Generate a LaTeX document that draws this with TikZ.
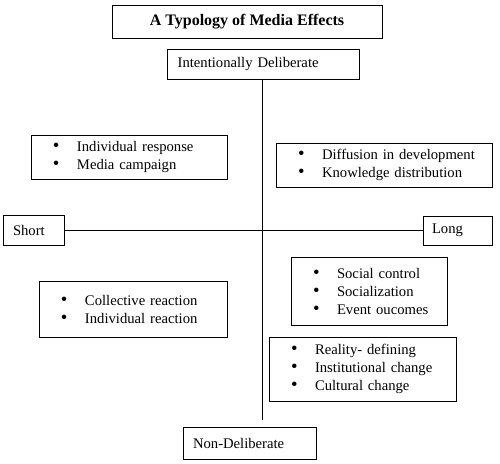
\documentclass[tikz,border=0pt]{standalone}
\usepackage{fontspec}
\setmainfont{Liberation Serif}
\newcommand{\itm}[1]{\hspace*{16.5pt}\makebox[18pt][l]{\fontsize{14}{13.5}\selectfont\textbullet}#1}
\begin{document}
\begin{tikzpicture}[x=0.75pt,y=-0.75pt,line width=0.6pt,
    font=\fontsize{11}{13.5}\selectfont,
    box/.style 2 args={draw,text width=#1,minimum height=#2,inner xsep=0pt,inner ysep=0pt,align=left}]
  \useasboundingbox (0,0) rectangle (500,464);
  \draw
    (247,21.5) node[draw,minimum width=202.5pt,minimum height=24.75pt,
      font=\fontsize{12}{14}\selectfont\bfseries] (title){A Typology of Media Effects}
    (263,64) node[box={144pt}{22.5pt}] (intent){\hspace*{8pt}Intentionally Deliberate}
    (249.5,443) node[box={99.75pt}{24pt}] (nondel){\hspace*{7.5pt}Non-Deliberate}
    (33.5,230.5) node[box={45.75pt}{22.5pt}] (short){\hspace*{7.5pt}Short}
    (457.5,230.5) node[box={51.75pt}{21.75pt}] (long){\hspace*{6.75pt}Long}
    (129,157) node[box={147pt}{33pt}] (indresp){\itm{Individual response}\\ \itm{Media campaign}}
    (384,165) node[box={162pt}{33pt}] (diffusion){\itm{Diffusion in development}\\ \itm{Knowledge distribution}}
    (133,309) node[box={141pt}{42pt}] (collective){\itm{Collective reaction}\\ \itm{Individual reaction}}
    (369,291) node[box={117pt}{51pt}] (social){\itm{Social control}\\ \itm{Socialization}\\ \itm{Event oucomes}}
    (362.5,369) node[box={140.25pt}{48pt}] (reality){\itm{Reality- defining}\\ \itm{Institutional change}\\ \itm{Cultural change}};
  \coordinate (vend) at (262,420);
  \begin{scope}[-]
    \draw (intent.south -| vend) to (vend);
    \draw (short) to (long);
  \end{scope}
\end{tikzpicture}
\end{document}
